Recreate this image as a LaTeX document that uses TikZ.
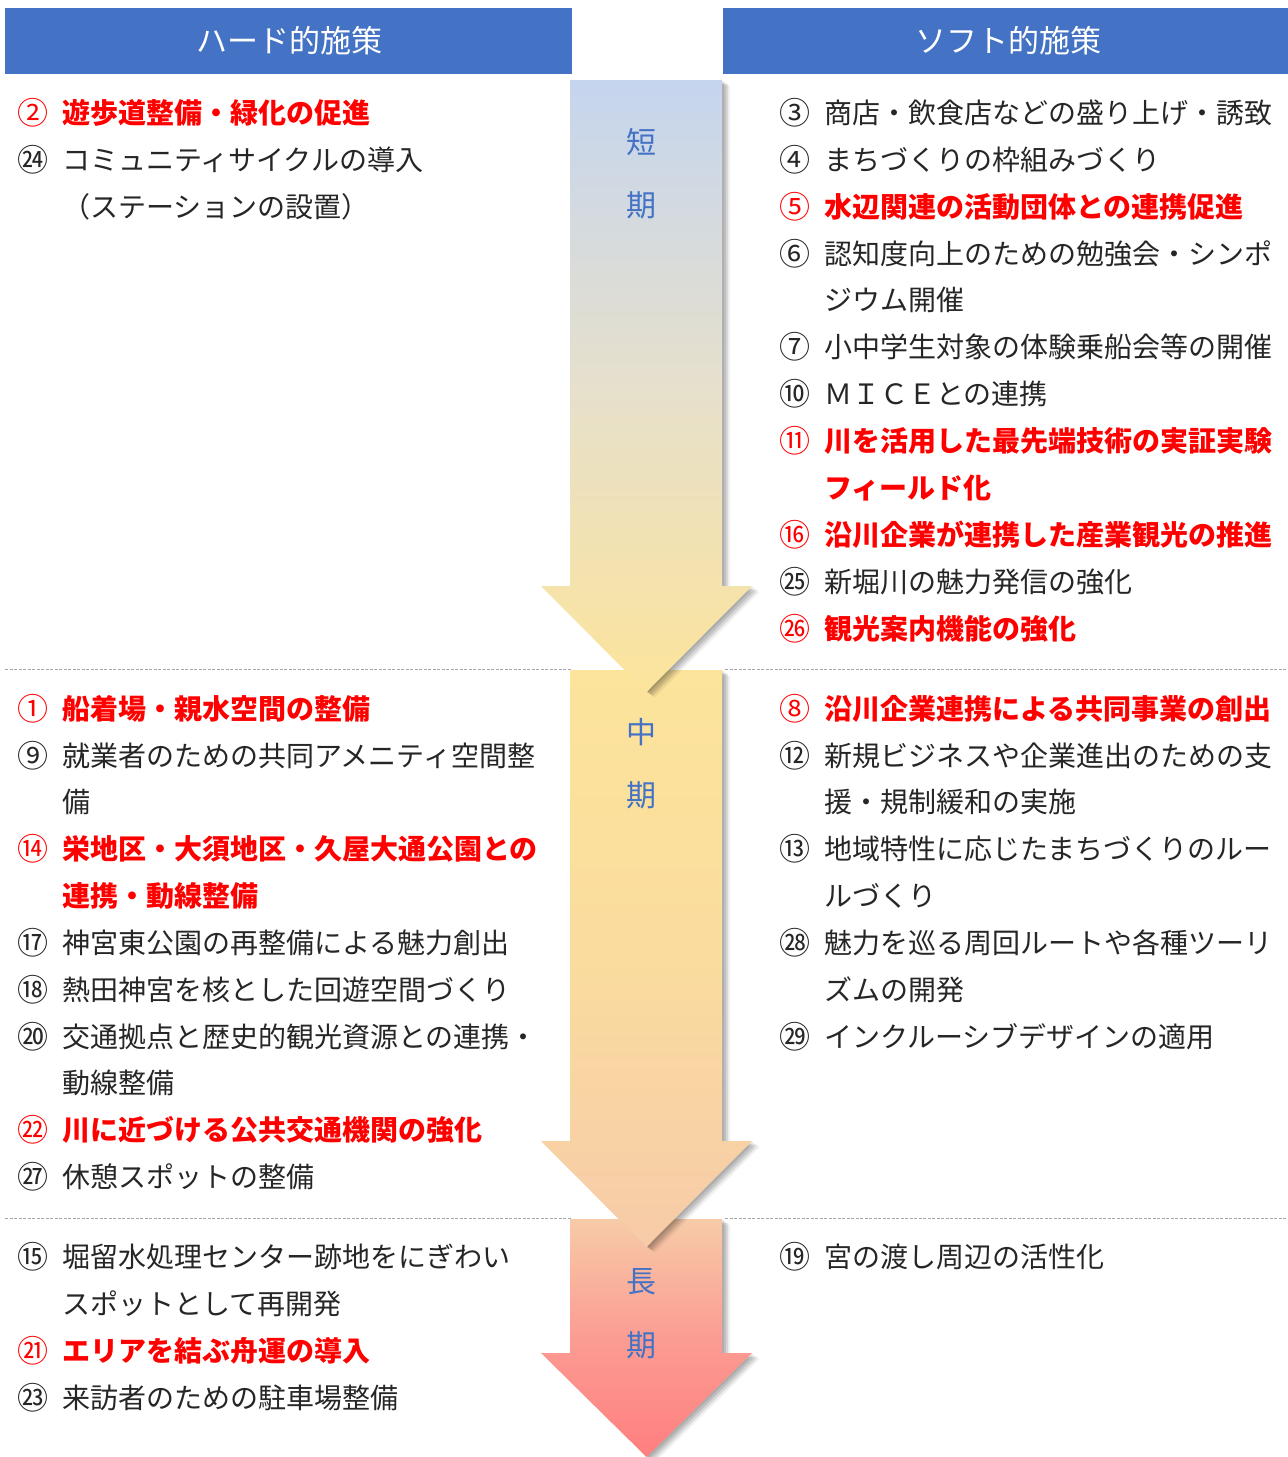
\documentclass[tikz,border=0pt]{standalone}
\usepackage{fontspec}
\newfontfamily\jp{Noto Sans CJK JP}
\definecolor{hdr}{HTML}{4472C4}
\definecolor{txtg}{HTML}{262626}
\definecolor{redt}{HTML}{FF0000}
\definecolor{dashg}{HTML}{A6A6A6}
\definecolor{ablue}{HTML}{C5D5EE}
\definecolor{amid}{HTML}{E6E0CC}
\definecolor{ayel}{HTML}{FCE49B}
\definecolor{ayel2}{HTML}{FADC9E}
\definecolor{apeach}{HTML}{F7CBA8}
\definecolor{apink}{HTML}{FB9C92}
\definecolor{ared}{HTML}{FF7F7F}
\newcommand\gitem[5]{\node[ng] (#1n) at (#2,#3) {#4}; \node[tg] (#1t) at ({#2+29},#3) {#5};}
\newcommand\ritem[5]{\node[nr] (#1n) at (#2,#3) {#4}; \node[tr] (#1t) at ({#2+29},#3) {#5};}
\newcommand\arrowpath[3]{(570,#1) -- (722,#1) -- (722,#2) -- (752,#2) -- (646.5,#3) -- (541,#2) -- (570,#2) -- cycle}
\begin{document}
\begin{tikzpicture}[x=1pt,y=-1pt,
  ng/.style={anchor=center,inner sep=0pt,text=txtg,font=\jp\fontsize{31}{31}\selectfont},
  nr/.style={anchor=center,inner sep=0pt,text=redt,font=\jp\fontsize{31}{31}\selectfont},
  tg/.style={anchor=west,inner sep=0pt,text=txtg,font=\jp\fontsize{28}{28}\selectfont},
  tr/.style={anchor=west,inner sep=0pt,text=redt,font=\jp\bfseries\fontsize{28}{28}\selectfont},
  hdrbox/.style={fill=hdr,draw=none},
  hdrtext/.style={text=white,font=\jp\fontsize{31}{31}\selectfont},
  plabel/.style={text=hdr,font=\jp\fontsize{30}{30}\selectfont},
  sep/.style={draw=dashg,line width=0.8pt,dash pattern=on 3pt off 1.5pt}
]
\useasboundingbox (0,0) rectangle (1288,1457);
\fill[white] (0,0) rectangle (1288,1457);

% headers
\fill[hdrbox] (5,8) rectangle (572,74);
\fill[hdrbox] (723,8) rectangle (1288,74);
\node[hdrtext] (hleft) at (289,41) {ハード的施策};
\node[hdrtext] (hright) at (1008,41) {ソフト的施策};

% separators
\draw[sep] (5,669) -- (572,669);
\draw[sep] (725,669) -- (1288,669);
\draw[sep] (5,1218) -- (572,1218);
\draw[sep] (725,1218) -- (1288,1218);

% arrow 3 (long term)
\foreach \o/\op in {2/0.10,4/0.10,6/0.10,8/0.06}{
  \fill[black,opacity=\op,shift={(\o,\o*0.7)}] \arrowpath{1219}{1353}{1457};}
\shade[top color=apeach,bottom color=ared,middle color=apink] \arrowpath{1219}{1353}{1457};
% arrow 2 (mid term)
\foreach \o/\op in {2/0.10,4/0.10,6/0.10,8/0.06}{
  \fill[black,opacity=\op,shift={(\o,\o*0.7)}] \arrowpath{670}{1141}{1247};}
\shade[top color=ayel,bottom color=apeach,middle color=ayel2] \arrowpath{670}{1141}{1247};
% arrow 1 (short term)
\foreach \o/\op in {2/0.10,4/0.10,6/0.10,8/0.06}{
  \fill[black,opacity=\op,shift={(\o,\o*0.7)}] \arrowpath{80}{586}{692};}
\shade[top color=ablue,bottom color=ayel,middle color=amid] \arrowpath{80}{586}{692};

% period labels
\node[plabel] (s1) at (641,142) {短};
\node[plabel] (s2) at (641,205) {期};
\node[plabel] (m1) at (641,732) {中};
\node[plabel] (m2) at (641,795) {期};
\node[plabel] (l1) at (641,1282) {長};
\node[plabel] (l2) at (641,1345) {期};

% short term - hard
\ritem{a2}{33}{113}{②}{遊歩道整備・緑化の促進}
\gitem{a24}{33}{160}{㉔}{コミュニティサイクルの導入}
\node[tg] (a24c) at (62,207) {（ステーションの設置）};

% short term - soft
\gitem{b3}{795}{113}{③}{商店・飲食店などの盛り上げ・誘致}
\gitem{b4}{795}{160}{④}{まちづくりの枠組みづくり}
\ritem{b5}{795}{207}{⑤}{水辺関連の活動団体との連携促進}
\gitem{b6}{795}{254}{⑥}{認知度向上のための勉強会・シンポ}
\node[tg] (b6c) at (824,300) {ジウム開催};
\gitem{b7}{795}{347}{⑦}{小中学生対象の体験乗船会等の開催}
\gitem{b10}{795}{394}{⑩}{ＭＩＣＥとの連携}
\ritem{b11}{795}{441}{⑪}{川を活用した最先端技術の実証実験}
\node[tr] (b11c) at (824,488) {フィールド化};
\ritem{b16}{795}{535}{⑯}{沿川企業が連携した産業観光の推進}
\gitem{b25}{795}{582}{㉕}{新堀川の魅力発信の強化}
\ritem{b26}{795}{629}{㉖}{観光案内機能の強化}

% mid term - hard
\ritem{c1}{33}{709}{①}{船着場・親水空間の整備}
\gitem{c9}{33}{756}{⑨}{就業者のための共同アメニティ空間整}
\node[tg] (c9c) at (62,802) {備};
\ritem{c14}{33}{849}{⑭}{栄地区・大須地区・久屋大通公園との}
\node[tr] (c14c) at (62,896) {連携・動線整備};
\gitem{c17}{33}{943}{⑰}{神宮東公園の再整備による魅力創出}
\gitem{c18}{33}{990}{⑱}{熱田神宮を核とした回遊空間づくり}
\gitem{c20}{33}{1037}{⑳}{交通拠点と歴史的観光資源との連携・}
\node[tg] (c20c) at (62,1083) {動線整備};
\ritem{c22}{33}{1130}{㉒}{川に近づける公共交通機関の強化}
\gitem{c27}{33}{1177}{㉗}{休憩スポットの整備}

% mid term - soft
\ritem{d8}{795}{709}{⑧}{沿川企業連携による共同事業の創出}
\gitem{d12}{795}{756}{⑫}{新規ビジネスや企業進出のための支}
\node[tg] (d12c) at (824,802) {援・規制緩和の実施};
\gitem{d13}{795}{849}{⑬}{地域特性に応じたまちづくりのルー}
\node[tg] (d13c) at (824,896) {ルづくり};
\gitem{d28}{795}{943}{㉘}{魅力を巡る周回ルートや各種ツーリ}
\node[tg] (d28c) at (824,990) {ズムの開発};
\gitem{d29}{795}{1037}{㉙}{インクルーシブデザインの適用}

% long term - hard
\gitem{e15}{33}{1257}{⑮}{堀留水処理センター跡地をにぎわい}
\node[tg] (e15c) at (62,1304) {スポットとして再開発};
\ritem{e21}{33}{1351}{㉑}{エリアを結ぶ舟運の導入}
\gitem{e23}{33}{1398}{㉓}{来訪者のための駐車場整備}

% long term - soft
\gitem{f19}{795}{1257}{⑲}{宮の渡し周辺の活性化}
\end{tikzpicture}
\end{document}
